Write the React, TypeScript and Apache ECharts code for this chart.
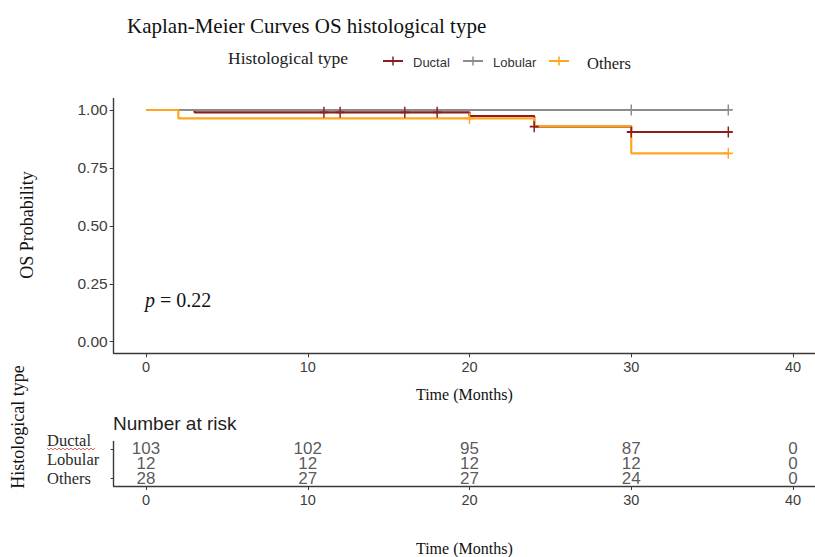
import React, { useEffect, useRef } from "react";
import * as echarts from "echarts";

const groups = ["Ductal", "Lobular", "Others"];
const groupColors = ["#8b1e1e", "#8c8c8c", "#ffa51f"];

const ductalTimes = [0, 3, 20, 24, 30, 36];
const ductalSurv = [1, 0.99, 0.974, 0.928, 0.905, 0.905];
const lobularTimes = [0, 36];
const lobularSurv = [1, 1];
const othersTimes = [0, 2, 24, 30, 36];
const othersSurv = [1, 0.964, 0.929, 0.813, 0.813];

const ductalCensorTimes = [11, 12, 16, 18, 24, 30, 36];
const ductalCensorSurv = [0.99, 0.99, 0.99, 0.99, 0.928, 0.905, 0.905];
const lobularCensorTimes = [30, 36];
const lobularCensorSurv = [1, 1];
const othersCensorTimes = [20, 36];
const othersCensorSurv = [0.964, 0.813];

const riskTimes = [0, 10, 20, 30, 40];
const ductalRisk = [103, 102, 95, 87, 0];
const lobularRisk = [12, 12, 12, 12, 0];
const othersRisk = [28, 27, 27, 24, 0];

const xTicks = [0, 10, 20, 30, 40];
const yTicks = [0, 0.25, 0.5, 0.75, 1];
const pValueText = "0.22";

const titleText = "Kaplan-Meier Curves OS histological type";
const legendTitle = "Histological type";
const yName = "OS Probability";
const xName = "Time (Months)";
const tableTitle = "Number at risk";

const SERIF = "'Liberation Serif', 'DejaVu Serif', serif";
const SANS = "'Liberation Sans', Arial, sans-serif";

const zip = (a: number[], b: number[]) => a.map((v, i) => [v, b[i]]);

export default function App() {
  const ref = useRef<HTMLDivElement>(null);
  useEffect(() => {
    if (!ref.current) return;
    const chart = echarts.init(ref.current, null, { renderer: "svg" });

    const stepTimes = [ductalTimes, lobularTimes, othersTimes];
    const stepSurv = [ductalSurv, lobularSurv, othersSurv];
    const cTimes = [ductalCensorTimes, lobularCensorTimes, othersCensorTimes];
    const cSurv = [ductalCensorSurv, lobularCensorSurv, othersCensorSurv];
    const risks = [ductalRisk, lobularRisk, othersRisk];

    const lineSeries = groups.map((g, i) => ({
      name: g,
      type: "line",
      xAxisIndex: 0,
      yAxisIndex: 0,
      step: "end",
      symbol: "none",
      data: zip(stepTimes[i], stepSurv[i]),
      lineStyle: { color: groupColors[i], width: 2.2 },
      z: 2 + i,
    }));
    const censorSeries = groups.map((g, i) => ({
      name: g + " censor",
      type: "scatter",
      xAxisIndex: 0,
      yAxisIndex: 0,
      symbol: "path://M5,0L5,12M0,6L10,6",
      symbolSize: [9, 11],
      data: zip(cTimes[i], cSurv[i]),
      itemStyle: { color: "none", borderColor: groupColors[i], borderWidth: 1.6, opacity: 1 },
      z: 6 + i,
    }));
    const riskData: any[] = [];
    risks.forEach((row, r) => row.forEach((v, j) => riskData.push([riskTimes[j], r, v])));
    const riskSeries = {
      name: "risk",
      type: "scatter",
      xAxisIndex: 1,
      yAxisIndex: 1,
      symbolSize: 1,
      itemStyle: { color: "rgba(0,0,0,0)" },
      data: riskData,
      label: {
        show: true,
        position: "inside",
        formatter: (p: any) => String(p.value[2]),
        color: "#2e2e2e",
        fontSize: 17,
        fontFamily: SANS,
      },
    };

    const axisLineStyle = { color: "#3a3a3a", width: 1.4 };
    const xCommon = {
      type: "value",
      min: -2,
      max: 41.36,
      splitLine: { show: false },
      axisLine: { show: true, onZero: false, lineStyle: axisLineStyle },
      axisTick: { show: true, customValues: xTicks, length: 4, lineStyle: { color: "#3a3a3a" } },
      axisLabel: { customValues: xTicks, color: "#3d3d3d", fontSize: 14.5, fontFamily: SANS, margin: 6 },
      nameLocation: "middle",
      nameTextStyle: { fontFamily: SERIF, fontSize: 16, color: "#111" },
    };

    const legendKeysX = [383, 463, 549];
    const legendTextX = [413, 493, 587];
    const legendGraphics: any[] = [];
    groups.forEach((g, i) => {
      legendGraphics.push({
        type: "line",
        shape: { x1: legendKeysX[i], y1: 61, x2: legendKeysX[i] + 20, y2: 61 },
        style: { stroke: groupColors[i], lineWidth: 2 },
      });
      legendGraphics.push({
        type: "line",
        shape: { x1: legendKeysX[i] + 10, y1: 56.5, x2: legendKeysX[i] + 10, y2: 65.5 },
        style: { stroke: groupColors[i], lineWidth: 1.5 },
      });
      const serifItem = i === 2;
      legendGraphics.push({
        type: "text",
        x: legendTextX[i],
        y: serifItem ? 63 : 62,
        style: {
          text: g,
          fontFamily: serifItem ? SERIF : SANS,
          fontSize: serifItem ? 16.5 : 13,
          fill: serifItem ? "#222" : "#333",
          verticalAlign: "middle",
          align: "left",
        },
      });
    });

    const squiggle: number[][] = [];
    for (let x = 47; x <= 95; x += 2) squiggle.push([x, 449 + ((x - 47) % 4 === 0 ? -1 : 1)]);

    const rowLabelY = [440, 459, 478];

    chart.setOption({
      animation: false,
      backgroundColor: "#fff",
      grid: [
        { left: 113.65, right: 0, top: 98.4, bottom: 203.7 },
        { left: 113.65, right: 0, top: 441.5, bottom: 70.5 },
      ],
      xAxis: [
        { ...xCommon, gridIndex: 0, name: xName, nameGap: 33 },
        { ...xCommon, gridIndex: 1, name: xName, nameGap: 54 },
      ],
      yAxis: [
        {
          type: "value",
          gridIndex: 0,
          min: -0.05,
          max: 1.05,
          splitLine: { show: false },
          axisLine: { show: true, onZero: false, lineStyle: axisLineStyle },
          axisTick: { show: true, customValues: yTicks, length: 4, lineStyle: { color: "#3a3a3a" } },
          axisLabel: {
            customValues: yTicks,
            formatter: (v: number) => v.toFixed(2),
            color: "#3d3d3d",
            fontSize: 15.5,
            fontFamily: SANS,
            margin: 6,
          },
        },
        {
          type: "category",
          gridIndex: 1,
          data: groups,
          inverse: true,
          axisLine: { show: true, onZero: false, lineStyle: axisLineStyle },
          axisTick: { show: true, alignWithLabel: true, length: 3, lineStyle: { color: "#3a3a3a" } },
          axisLabel: { show: false },
          splitLine: { show: false },
        },
      ],
      series: [...lineSeries, ...censorSeries, riskSeries],
      graphic: [
        {
          type: "text",
          x: 127,
          y: 26,
          style: { text: titleText, fontFamily: SERIF, fontSize: 21, fill: "#111", verticalAlign: "middle" },
        },
        {
          type: "text",
          x: 228,
          y: 58,
          style: { text: legendTitle, fontFamily: SERIF, fontSize: 17.5, fill: "#222", verticalAlign: "middle" },
        },
        ...legendGraphics,
        {
          type: "text",
          x: 27,
          y: 225,
          rotation: Math.PI / 2,
          style: {
            text: yName,
            fontFamily: SERIF,
            fontSize: 18,
            fill: "#111",
            align: "center",
            verticalAlign: "middle",
          },
        },
        {
          type: "text",
          x: 18,
          y: 427,
          rotation: Math.PI / 2,
          style: {
            text: legendTitle,
            fontFamily: SERIF,
            fontSize: 18,
            fill: "#111",
            align: "center",
            verticalAlign: "middle",
          },
        },
        {
          type: "text",
          x: 145,
          y: 300,
          style: {
            text: "{i|p}{n| = " + pValueText + "}",
            verticalAlign: "middle",
            rich: {
              i: { fontFamily: SERIF, fontStyle: "italic", fontSize: 20, fill: "#111" },
              n: { fontFamily: SERIF, fontSize: 20, fill: "#111" },
            },
          },
        },
        {
          type: "text",
          x: 113,
          y: 423,
          style: { text: tableTitle, fontFamily: SANS, fontSize: 19, fill: "#222", verticalAlign: "middle" },
        },
        ...groups.map((g, i) => ({
          type: "text",
          x: 47,
          y: rowLabelY[i],
          style: {
            text: g,
            fontFamily: SERIF,
            fontSize: 16.5,
            fill: "#2b2b2b",
            align: "left",
            verticalAlign: "middle",
          },
        })),
        {
          type: "polyline",
          shape: { points: squiggle },
          style: { stroke: "#e06666", lineWidth: 1, fill: "none" },
        },
      ],
    });
    return () => chart.dispose();
  }, []);
  return (
    <div
      ref={ref}
      style={{ position: "absolute", left: 0, top: 0, width: 815, height: 557, background: "#fff" }}
    />
  );
}
